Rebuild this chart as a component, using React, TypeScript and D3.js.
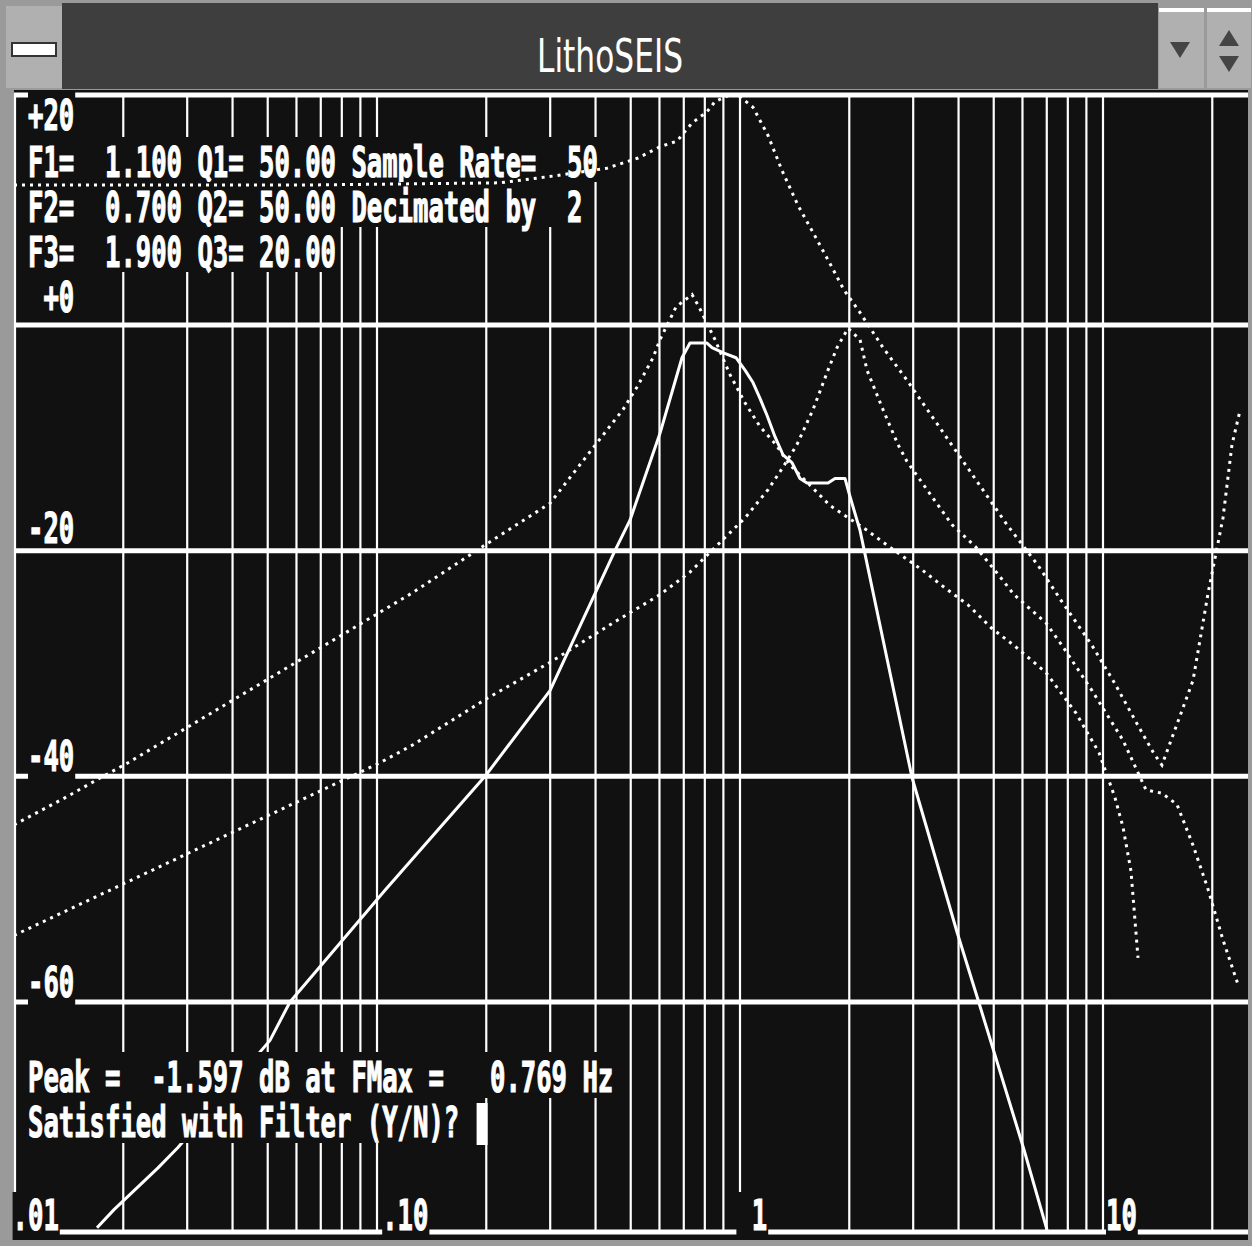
import React from 'react';
import * as d3 from 'd3';

// ---------- axis definitions ----------
const decadeTicks = [0.01, 0.1, 1, 10];
const decadeLabels = ['.01', '.10', ' 1', '10'];
const gridMultipliers = [1, 2, 3, 4, 5, 6, 7, 8, 9];
const dbGridValues = [0, -20, -40, -60];
const dbLabels = ['+20', ' +0', '-20', '-40', '-60'];

// ---------- on-screen text ----------
const paramLines = [
  'F1=  1.100 Q1= 50.00 Sample Rate=  50',
  'F2=  0.700 Q2= 50.00 Decimated by  2',
  'F3=  1.900 Q3= 20.00',
];
const statusLines = [
  'Peak =  -1.597 dB at FMax =   0.769 Hz',
  'Satisfied with Filter (Y/N)?',
];
const windowTitle = 'LithoSEIS';

// ---------- series (frequency Hz, amplitude dB) ----------
// combined filter response (solid)
const combinedFreq = [0.01693, 0.01886, 0.02127, 0.02493, 0.02829, 0.05072, 0.05757, 0.1052, 0.1984, 0.2996, 0.4524, 0.4977, 0.602, 0.6921, 0.7282, 0.769, 0.8111, 0.8372, 0.9036, 0.975, 1.0322, 1.0859, 1.1352, 1.1867, 1.2485, 1.3135, 1.3906, 1.463, 1.5294, 1.7477, 1.8271, 1.9463, 2.0091, 2.1411, 2.9777, 3.961, 4.5255, 6.059, 7.0105];
const combinedDb = [-80.0, -78.4, -76.8, -74.7, -72.9, -63.4, -60.0, -50.1, -40.0, -32.4, -20.0, -17.3, -9.6, -2.9, -1.6, -1.597, -1.6, -2.0, -2.5, -2.9, -4.0, -5.1, -6.5, -8.0, -9.9, -11.5, -12.2, -13.6, -14.0, -14.0, -13.6, -13.6, -15.2, -18.2, -40.1, -53.8, -59.8, -73.1, -80.2];

// dotted section responses
const sectionHFreq = [0.01, 0.06136, 0.2182, 0.3054, 0.4301, 0.5237, 0.602, 0.6706, 0.7375, 0.8111, 0.8533, 0.9688, 1.0859, 1.1943, 1.3051, 1.4446, 1.5891, 1.7588, 1.934, 2.1411, 2.4771, 2.8845, 5.4392, 6.6218, 7.6617, 9.3264, 10.792, 12.487, 13.822, 14.537, 17.7, 19.467, 21.407, 22.665, 23.843];
const sectionHDb = [12.4, 12.4, 12.6, 13.2, 13.9, 14.8, 15.8, 16.3, 17.9, 18.9, 19.8, 20.6, 19.3, 16.8, 13.7, 10.6, 8.2, 5.6, 3.1, 1.1, -2.0, -4.9, -17.7, -21.3, -24.4, -28.4, -31.8, -35.5, -38.0, -39.0, -31.5, -23.8, -17.1, -10.6, -7.6];

const sectionAFreq = [0.01, 0.014, 0.01693, 0.02061, 0.1257, 0.1984, 0.2996, 0.4524, 0.476, 0.5205, 0.576, 0.602, 0.6664, 0.7375, 0.771, 0.8533, 0.9385, 1.0322, 1.1352, 1.2485, 1.3731, 1.7699, 2.2382, 2.5895, 3.1722, 3.6696, 4.246, 4.9449, 5.6866, 6.9662, 8.4263, 9.7496, 10.792, 11.353, 11.944, 12.487];
const sectionADb = [-44.3, -41.8, -40.3, -38.8, -23.7, -19.5, -15.8, -8.4, -7.5, -5.5, -2.9, -1.3, 1.6, 2.7, 1.6, -1.3, -4.4, -6.9, -9.0, -10.5, -12.4, -16.0, -18.2, -19.7, -21.7, -23.3, -24.8, -26.9, -28.4, -30.8, -34.4, -37.9, -41.9, -44.5, -48.4, -56.1];

const sectionBFreq = [0.01, 0.1019, 0.1257, 0.1984, 0.2996, 0.4524, 0.602, 0.7282, 0.8922, 1.0322, 1.1943, 1.3135, 1.4354, 1.5891, 1.7477, 1.8505, 1.9836, 2.1411, 2.2382, 2.4771, 2.7243, 2.8845, 3.8371, 4.4684, 5.1703, 5.6866, 6.9662, 7.7105, 9.3264, 11.353, 13.135, 14.537, 15.988, 17.7, 19.467, 21.407, 23.693];
const sectionBDb = [-54.1, -38.8, -37.2, -33.2, -29.9, -26.3, -23.9, -21.9, -19.1, -17.1, -14.6, -12.6, -10.6, -7.5, -4.0, -2.0, -0.3, -1.3, -4.0, -7.5, -10.6, -12.1, -17.7, -19.7, -22.2, -23.9, -26.4, -28.4, -32.4, -36.8, -41.2, -41.5, -42.5, -46.1, -50.0, -54.5, -58.7];

// ---------- layout ----------
const W = 1252;
const H = 1246;
const PLOT = { left: 14, right: 1248, top: 95, bottom: 1232 };
const BG = '#111111';
const FG = '#ffffff';
const FRAME = '#9a9a9a';
const CW = 15.4; // character cell width
const COL0 = 28; // x of text column 0
const MONO = "'DejaVu Sans Mono', 'Liberation Mono', monospace";
const FONT_SIZE = 42;

function MonoText({ text, col, baseline, box = true, boxTop = 38, boxBottom = 7 }: any) {
  const xStart = COL0 + col * CW;
  const n = text.length;
  return (
    <g>
      {box && <rect x={xStart} y={baseline - boxTop} width={n * CW + 1} height={boxTop + boxBottom} fill={BG} />}
      <text
        x={xStart}
        y={baseline}
        textLength={n * CW}
        lengthAdjust="spacingAndGlyphs"
        xmlSpace="preserve"
        style={{ whiteSpace: 'pre' }}
        fill={FG}
        stroke={FG}
        strokeWidth={1.2}
        fontFamily={MONO}
        fontWeight="bold"
        fontSize={FONT_SIZE}
      >
        {text}
      </text>
    </g>
  );
}

export default function App() {
  const x = d3.scaleLog().domain([0.01, 25]).range([14, 14 + 363 * Math.log10(2500)]);
  const y = d3.scaleLinear().domain([0, -60]).range([325, 1002]);

  const line = d3
    .line<[number, number]>()
    .x((d) => x(d[0]))
    .y((d) => y(d[1]));

  const zip = (f: number[], v: number[]) => f.map((ff, i) => [ff, v[i]] as [number, number]);

  const gridFreqs = decadeTicks
    .flatMap((d) => gridMultipliers.map((m) => d * m))
    .filter((f) => f <= 25.001 && f > 0.01);

  const dotted = [
    zip(sectionHFreq, sectionHDb),
    zip(sectionAFreq, sectionADb),
    zip(sectionBFreq, sectionBDb),
  ];

  const dbLabelBaselines = [130, 312, 543, 771, 997];
  const dbLabelBoxed = [true, false, false, true, true];
  const paramBaselines = [177, 222, 267];
  const statusBaselines = [1092, 1137];
  const xLabelCols = [-1, 23, 46, 70];

  return (
    <svg width={W} height={H} viewBox={`0 0 ${W} ${H}`} style={{ position: 'absolute', left: 0, top: 0, display: 'block' }}>
      <defs>
        <clipPath id="plotClip">
          <rect x={PLOT.left} y={PLOT.top} width={PLOT.right - PLOT.left} height={PLOT.bottom - PLOT.top} />
        </clipPath>
      </defs>
      {/* window frame */}
      <rect x={0} y={0} width={W} height={H} fill={FRAME} />
      {/* title bar */}
      <rect x={62} y={3} width={1096} height={86} fill="#3e3e3e" />
      {/* system menu box */}
      <rect x={6} y={6} width={56} height={82} fill="#b0b0b0" />
      <rect x={12} y={43} width={44} height={13} fill="#ffffff" stroke="#333" strokeWidth={2} />
      {/* right buttons */}
      <rect x={1159} y={8} width={45} height={80} fill="#b0b0b0" />
      <rect x={1159} y={8} width={45} height={4} fill="#ffffff" />
      <path d="M1170,42 L1190,42 L1180,58 Z" fill="#444" />
      <rect x={1207} y={8} width={44} height={80} fill="#b0b0b0" />
      <rect x={1207} y={8} width={44} height={4} fill="#ffffff" />
      <path d="M1219,46 L1239,46 L1229,30 Z" fill="#444" />
      <path d="M1219,56 L1239,56 L1229,72 Z" fill="#444" />
      {/* title */}
      <text x={537} y={72} textLength={146} lengthAdjust="spacingAndGlyphs" fill="#ffffff" fontFamily="'DejaVu Sans', sans-serif" fontSize={47}>
        {windowTitle}
      </text>

      {/* plot background */}
      <rect x={PLOT.left} y={90} width={W - PLOT.left - 4} height={1150} fill={BG} />

      {/* vertical grid */}
      {gridFreqs.map((f, i) => (
        <line key={'v' + i} x1={x(f)} x2={x(f)} y1={PLOT.top} y2={PLOT.bottom} stroke={FG} strokeWidth={2.2} />
      ))}
      <line x1={PLOT.left + 1} x2={PLOT.left + 1} y1={PLOT.top} y2={PLOT.bottom} stroke={FG} strokeWidth={2.2} />

      {/* horizontal grid */}
      {dbGridValues.map((v) => (
        <line key={'h' + v} x1={PLOT.left} x2={PLOT.right} y1={y(v)} y2={y(v)} stroke={FG} strokeWidth={5} />
      ))}
      <line x1={PLOT.left} x2={PLOT.right} y1={PLOT.top} y2={PLOT.top} stroke={FG} strokeWidth={5} />
      <line x1={PLOT.left} x2={PLOT.right} y1={PLOT.bottom} y2={PLOT.bottom} stroke={FG} strokeWidth={5} />

      {/* dB labels */}
      {dbLabels.map((t, i) => (
        <MonoText key={'dl' + i} text={t} col={0} baseline={dbLabelBaselines[i]} box={dbLabelBoxed[i]} boxTop={i === 0 ? 39 : 38} boxBottom={i === 0 ? 5 : 10} />
      ))}

      {/* parameter text */}
      {paramLines.map((t, i) => (
        <MonoText key={'p' + i} text={t} col={0} baseline={paramBaselines[i]} boxTop={40} boxBottom={5} />
      ))}

      {/* curves */}
      <g clipPath="url(#plotClip)">
        {dotted.map((d, i) => (
          <path key={'d' + i} d={line(d) || ''} fill="none" stroke={FG} strokeWidth={3} strokeDasharray="3 5" />
        ))}
        <path d={line(zip(combinedFreq, combinedDb)) || ''} fill="none" stroke={FG} strokeWidth={3} strokeLinejoin="round" />
      </g>

      {/* status text */}
      {statusLines.map((t, i) => (
        <MonoText key={'s' + i} text={t} col={0} baseline={statusBaselines[i]} boxTop={40} boxBottom={6} />
      ))}
      <rect x={COL0 + 29 * CW + 2} y={1103} width={11} height={42} fill={FG} />

      {/* x labels */}
      {decadeLabels.map((t, i) => (
        <MonoText key={'xl' + i} text={t} col={xLabelCols[i]} baseline={1230} boxTop={38} boxBottom={10} />
      ))}

      {/* outer frame edges */}
      <rect x={0} y={90} width={PLOT.left - 2} height={H - 90} fill={FRAME} />
      <rect x={0} y={1240} width={W} height={6} fill={FRAME} />
      <rect x={W - 3} y={90} width={3} height={H - 90} fill={FRAME} />
    </svg>
  );
}
